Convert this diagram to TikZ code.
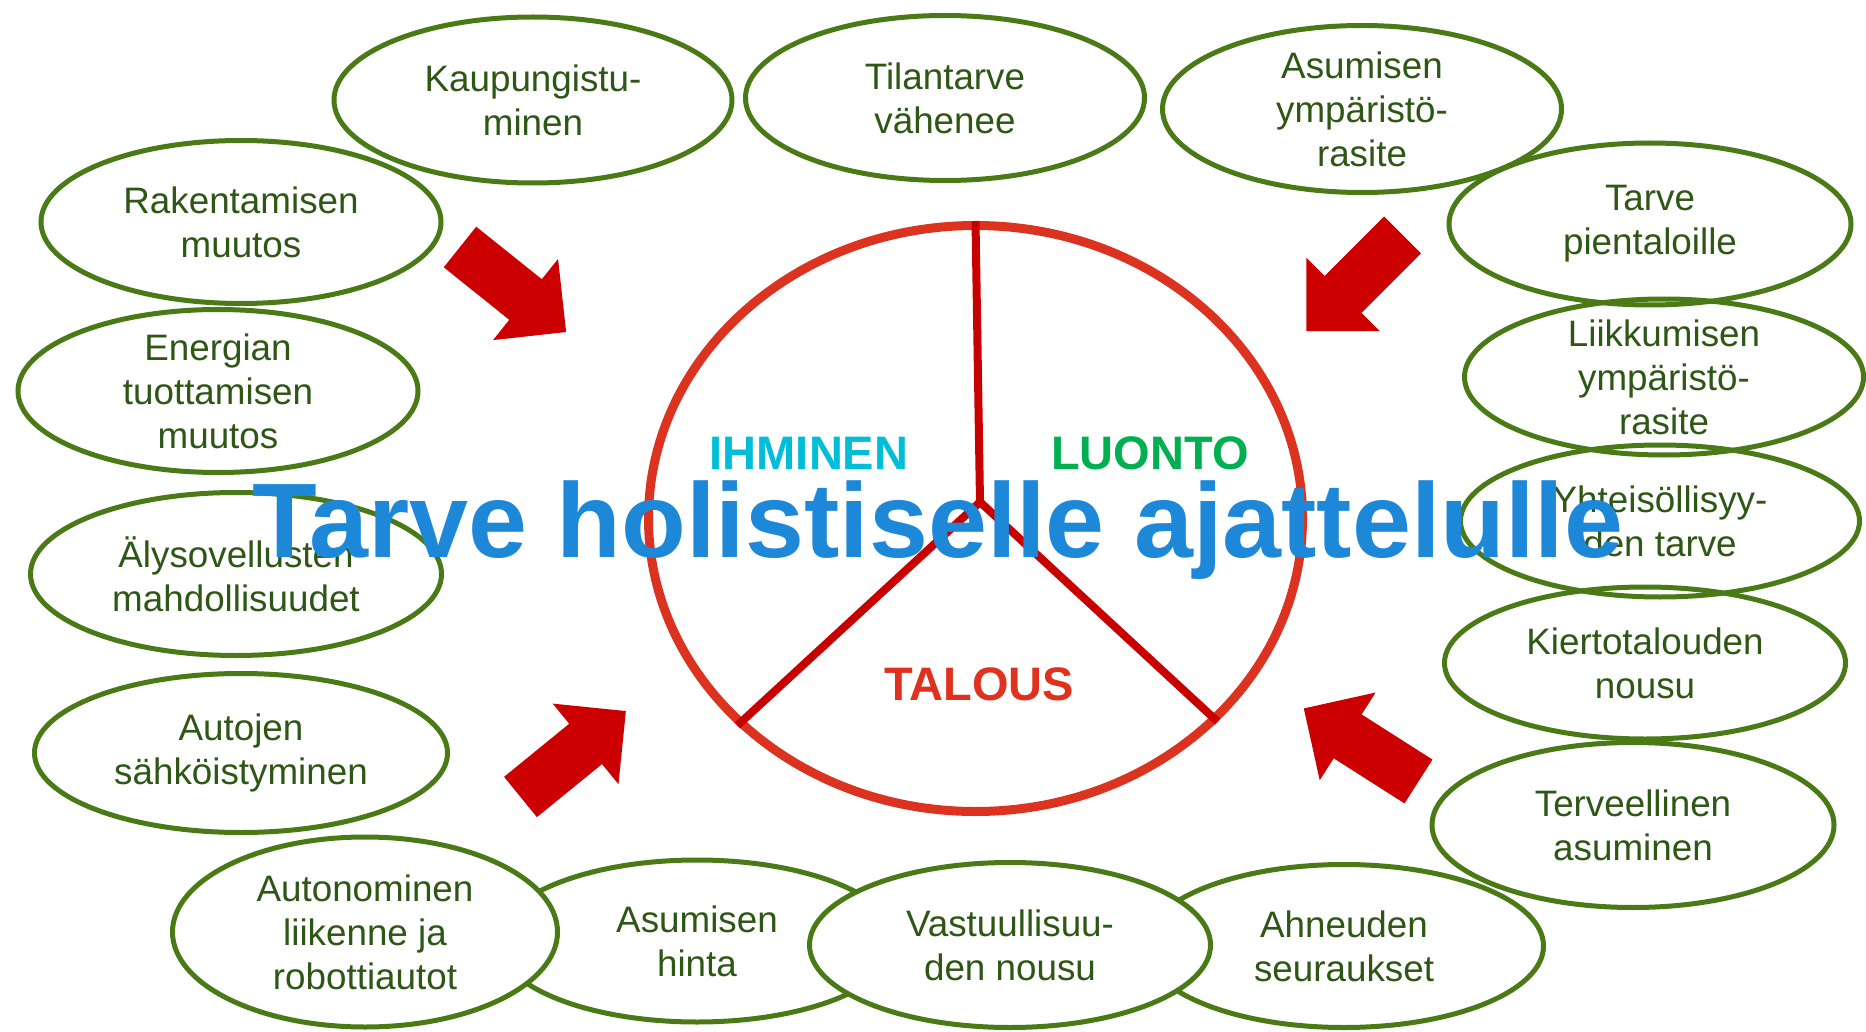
\documentclass[tikz,border=0pt]{standalone}
\usepackage{fontspec}
\setmainfont{Liberation Sans}
\usetikzlibrary{shapes.geometric}
\definecolor{leafgreen}{HTML}{4A7A16}
\definecolor{inkgreen}{HTML}{2E5614}
\definecolor{rimred}{HTML}{DC3220}
\definecolor{spokered}{HTML}{C80000}
\definecolor{pushred}{HTML}{CC0000}
\definecolor{titleblue}{HTML}{1E88D8}
\definecolor{ihmcyan}{HTML}{00BED8}
\definecolor{luogreen}{HTML}{00B050}
\definecolor{talred}{HTML}{E0301E}
\tikzset{%
  bubble/.style       = {shape=ellipse, draw=leafgreen, line width=5pt,%
                         inner sep=-12pt, align=center, text=inkgreen,%
                         font=\fontsize{36.8}{44}\selectfont,%
                         minimum width=400pt, minimum height=163pt},%
  front bubble/.style = {bubble, fill=white},%
  sector/.style       = {font=\bfseries\fontsize{47}{50}\selectfont},%
  spoke/.style        = {draw=spokered, line width=8pt},%
  rim/.style          = {draw=rimred, line width=9pt}%
}
\newcommand{\pusharrow}[2]{%
  \fill[pushred, shift={(#1)}, rotate=#2]
    (0,-26) -- (84,-26) -- (84,-52) -- (136,0) -- (84,52) -- (84,26) -- (0,26) -- cycle;}

\begin{document}
\begin{tikzpicture}[x=1pt,y=-1pt]
	\useasboundingbox (0,0) rectangle (1866,1032);
	% arrows towards the wheel
	\pusharrow{460,247}{-38.7}
	\pusharrow{1402.5,235}{-135}
	\pusharrow{520.5,797}{39.2}
	\pusharrow{1418.5,781.5}{147.5}
	% the wheel
	\node [rim, shape=ellipse, inner sep=0pt, minimum width=654pt, minimum height=586pt] (wheel) at (975.5,518.5) {};
	\coordinate (hub) at (980,502);
	\draw [spoke] (hub) -- (wheel.north);
	\draw [spoke] (hub) -- (wheel.221);
	\draw [spoke] (hub) -- (wheel.320);
	\node [sector, text=ihmcyan] (ihminen) at (809,453) {IHMINEN};
	\node [sector, text=luogreen] (luonto) at (1150,453) {LUONTO};
	\node [sector, text=talred] (talous) at (979,684) {TALOUS};
	% top row
	\node [bubble, minimum width=398pt, minimum height=166pt] (kaupunki) at (533,100) {Kaupungistu-\\minen};
	\node [bubble, minimum width=399pt, minimum height=165pt] (tila) at (945,98) {Tilantarve\\vähenee};
	\node [bubble, minimum width=399pt, minimum height=167pt] (asumisrasite) at (1362,109) {Asumisen\\ympäristö-\\rasite};
	% left column
	\node [bubble] (rakentaminen) at (241,222) {Rakentamisen\\muutos};
	\node [bubble] (energia) at (218,391) {Energian\\tuottamisen\\muutos};
	\node [bubble, minimum width=411pt] (aly) at (236,574) {Älysovellusten\\mahdollisuudet};
	\node [bubble, minimum width=413pt, minimum height=159pt] (autot) at (241,753) {Autojen\\sähköistyminen};
	% right column
	\node [bubble, minimum width=402pt, minimum height=162pt] (pientalo) at (1650,224) {Tarve\\pientaloille};
	\node [bubble, minimum width=399pt, minimum height=156pt] (liikkuminen) at (1664,377) {Liikkumisen\\ympäristö-\\rasite};
	\node [bubble, minimum width=399pt, minimum height=152pt] (yhteiso) at (1660,521) {Yhteisöllisyy-\\den tarve};
	\node [bubble, minimum width=401pt, minimum height=152pt] (kierto) at (1645,663) {Kiertotalouden\\nousu};
	\node [bubble, minimum width=402pt, minimum height=165pt] (terveys) at (1633,825) {Terveellinen\\asuminen};
	% bottom row
	\node [front bubble, minimum width=399pt, minimum height=162pt] (hinta) at (697,941) {Asumisen\\hinta};
	\node [front bubble, minimum width=399pt, minimum height=163pt] (ahneus) at (1344,946) {Ahneuden\\seuraukset};
	\node [front bubble, minimum width=385pt, minimum height=190pt] (autonomia) at (365,932) {Autonominen\\liikenne ja\\robottiautot};
	\node [front bubble, minimum width=401pt, minimum height=165pt] (vastuu) at (1010,945) {Vastuullisuu-\\den nousu};
	% title over everything
	\node [font=\bfseries\fontsize{106}{110}\selectfont, text=titleblue, anchor=base] (otsikko) at (938,557) {Tarve holistiselle ajattelulle};
\end{tikzpicture}
\end{document}
